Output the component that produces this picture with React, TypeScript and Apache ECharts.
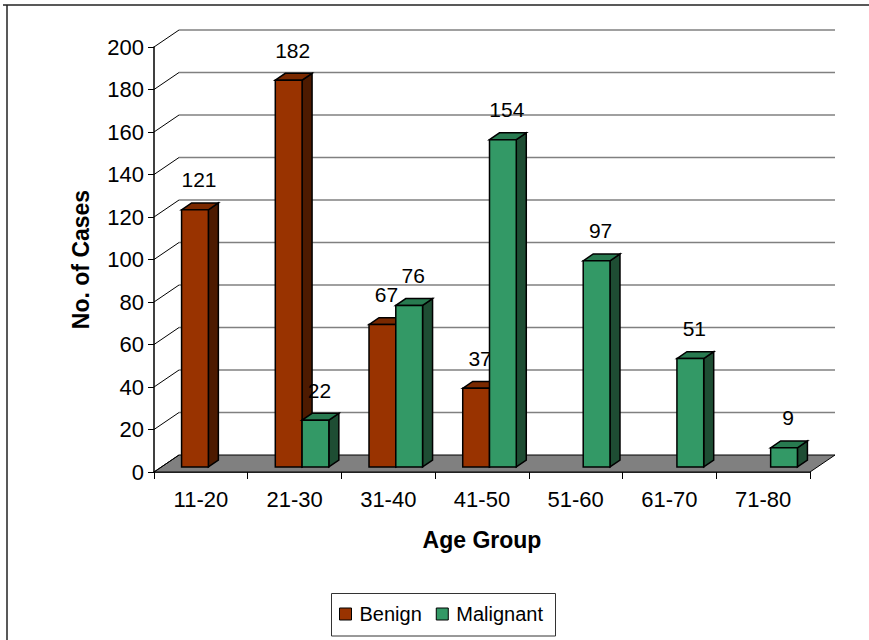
import React, { useEffect, useRef } from "react";
import * as echarts from "echarts";

const categories = ["11-20", "21-30", "31-40", "41-50", "51-60", "61-70", "71-80"];
const benign: (number | null)[] = [121, 182, 67, 37, null, null, null];
const malignant: (number | null)[] = [null, 22, 76, 154, 97, 51, 9];
const yTickValues = [0, 20, 40, 60, 80, 100, 120, 140, 160, 180, 200];

const FONT = "'Liberation Sans', Arial, sans-serif";
const DX = 25;
const DY = -17;
const F1 = 0.3;
const F2 = 0.7;

const palettes = [
  { front: "#993300", side: "#4d1a00", top: "#7a2900" },
  { front: "#339966", side: "#1e4d33", top: "#287a50" },
];

function makeBarRenderer(idx: number) {
  const pal = palettes[idx];
  return (params: any, api: any) => {
    const ci = api.value(0);
    const v = api.value(1);
    const catW = api.size([1, 0])[0];
    const w = catW / 3.5;
    const center = api.coord([ci, 0])[0];
    const x0 = center - w + idx * w + F1 * DX;
    const x1 = x0 + w;
    const yb = api.coord([ci, 0])[1] + F1 * DY;
    const yt = api.coord([ci, v])[1] + F1 * DY;
    const ddx = (F2 - F1) * DX;
    const ddy = (F2 - F1) * DY;
    const stroke = { stroke: "#000", lineWidth: 1.5, lineJoin: "miter" };
    return {
      type: "group",
      children: [
        {
          type: "polygon",
          shape: { points: [[x1, yb], [x1 + ddx, yb + ddy], [x1 + ddx, yt + ddy], [x1, yt]] },
          style: { fill: pal.side, ...stroke },
        },
        {
          type: "polygon",
          shape: { points: [[x0, yt], [x0 + ddx, yt + ddy], [x1 + ddx, yt + ddy], [x1, yt]] },
          style: { fill: pal.top, ...stroke },
        },
        {
          type: "rect",
          shape: { x: x0, y: yt, width: w, height: yb - yt },
          style: { fill: pal.front, ...stroke },
        },
        {
          type: "text",
          x: x0 + w / 2 + 4,
          y: yt - 30,
          style: {
            text: String(v),
            fill: "#000",
            font: `21px ${FONT}`,
            align: "center",
            verticalAlign: "middle",
            textAlign: "center",
            textVerticalAlign: "middle",
          },
        },
      ],
    };
  };
}

function renderWalls(params: any, api: any) {
  const cs = params.coordSys;
  const left = cs.x;
  const right = cs.x + cs.width;
  const children: any[] = [];
  const y0 = api.coord([0, 0])[1];
  children.push({
    type: "polygon",
    shape: { points: [[left, y0], [left + DX, y0 + DY], [right + DX, y0 + DY], [right, y0]] },
    style: { fill: "#808080", stroke: "#000", lineWidth: 1 },
  });
  yTickValues.forEach((t) => {
    const y = api.coord([0, t])[1];
    if (t !== 0) {
      children.push({
        type: "line",
        shape: { x1: left + DX, y1: y + DY, x2: right + DX, y2: y + DY },
        style: { stroke: "#808080", lineWidth: 1.5 },
      });
    }
    children.push({
      type: "line",
      shape: { x1: left, y1: y, x2: left + DX, y2: y + DY },
      style: { stroke: "#000", lineWidth: 1 },
    });
  });
  return { type: "group", children };
}

export default function App() {
  const ref = useRef<HTMLDivElement>(null);
  useEffect(() => {
    if (!ref.current) return;
    const chart = echarts.init(ref.current, null, { renderer: "svg" });
    const benignData = benign
      .map((v, i) => (v == null ? null : [i, v]))
      .filter((d) => d !== null);
    const malignantData = malignant
      .map((v, i) => (v == null ? null : [i, v]))
      .filter((d) => d !== null);
    chart.setOption({
      animation: false,
      backgroundColor: "#fff",
      textStyle: { fontFamily: FONT },
      grid: { left: 154, right: 59, top: 47, bottom: 168, containLabel: false },
      xAxis: {
        type: "category",
        data: categories,
        boundaryGap: true,
        name: "Age Group",
        nameLocation: "middle",
        nameGap: 56,
        nameTextStyle: { fontSize: 23, fontWeight: "bold", color: "#000", fontFamily: FONT },
        axisLine: { lineStyle: { color: "#000", width: 1.5 } },
        axisTick: { show: true, length: 7, lineStyle: { color: "#000", width: 1 } },
        axisLabel: { fontSize: 22, color: "#000", margin: 16, fontFamily: FONT },
        splitLine: { show: false },
      },
      yAxis: {
        type: "value",
        min: 0,
        max: 200,
        interval: 20,
        name: "No. of Cases",
        nameLocation: "middle",
        nameGap: 62,
        nameTextStyle: { fontSize: 23, fontWeight: "bold", color: "#000", fontFamily: FONT },
        axisLine: { show: true, lineStyle: { color: "#000", width: 1.5 } },
        axisTick: { show: true, length: 6, lineStyle: { color: "#000", width: 1 } },
        axisLabel: { fontSize: 22, color: "#000", margin: 10, fontFamily: FONT },
        splitLine: { show: false },
      },
      legend: {
        data: [
          { name: "Benign", itemStyle: { color: palettes[0].front, borderColor: "#000", borderWidth: 1 } },
          { name: "Malignant", itemStyle: { color: palettes[1].front, borderColor: "#000", borderWidth: 1 } },
        ],
        icon: "rect",
        left: 339,
        top: 604,
        padding: 0,
        itemWidth: 12,
        itemHeight: 12,
        itemGap: 14,
        textStyle: { fontSize: 20, color: "#000", fontFamily: FONT, padding: [0, 0, 0, 3] },
      },
      graphic: [
        {
          type: "line",
          shape: { x1: 3, y1: 5, x2: 869, y2: 5 },
          style: { stroke: "#222", lineWidth: 1.5 },
        },
        {
          type: "line",
          shape: { x1: 7, y1: 5, x2: 7, y2: 640 },
          style: { stroke: "#222", lineWidth: 1.5 },
        },
        {
          type: "rect",
          shape: { x: 331.5, y: 593.5, width: 224, height: 42.5 },
          style: { fill: "none", stroke: "#333", lineWidth: 1 },
        },
      ],
      series: [
        {
          type: "custom",
          name: "walls",
          renderItem: renderWalls,
          data: [[0, 0]],
          z: 1,
          silent: true,
        },
        {
          type: "custom",
          name: "Benign",
          renderItem: makeBarRenderer(0),
          data: benignData,
          itemStyle: { color: palettes[0].front },
          z: 3,
        },
        {
          type: "custom",
          name: "Malignant",
          renderItem: makeBarRenderer(1),
          data: malignantData,
          itemStyle: { color: palettes[1].front },
          z: 3,
        },
      ],
    });
    return () => chart.dispose();
  }, []);
  return (
    <div
      ref={ref}
      style={{ position: "fixed", left: 0, top: 0, width: 869, height: 640, background: "#fff" }}
    />
  );
}
